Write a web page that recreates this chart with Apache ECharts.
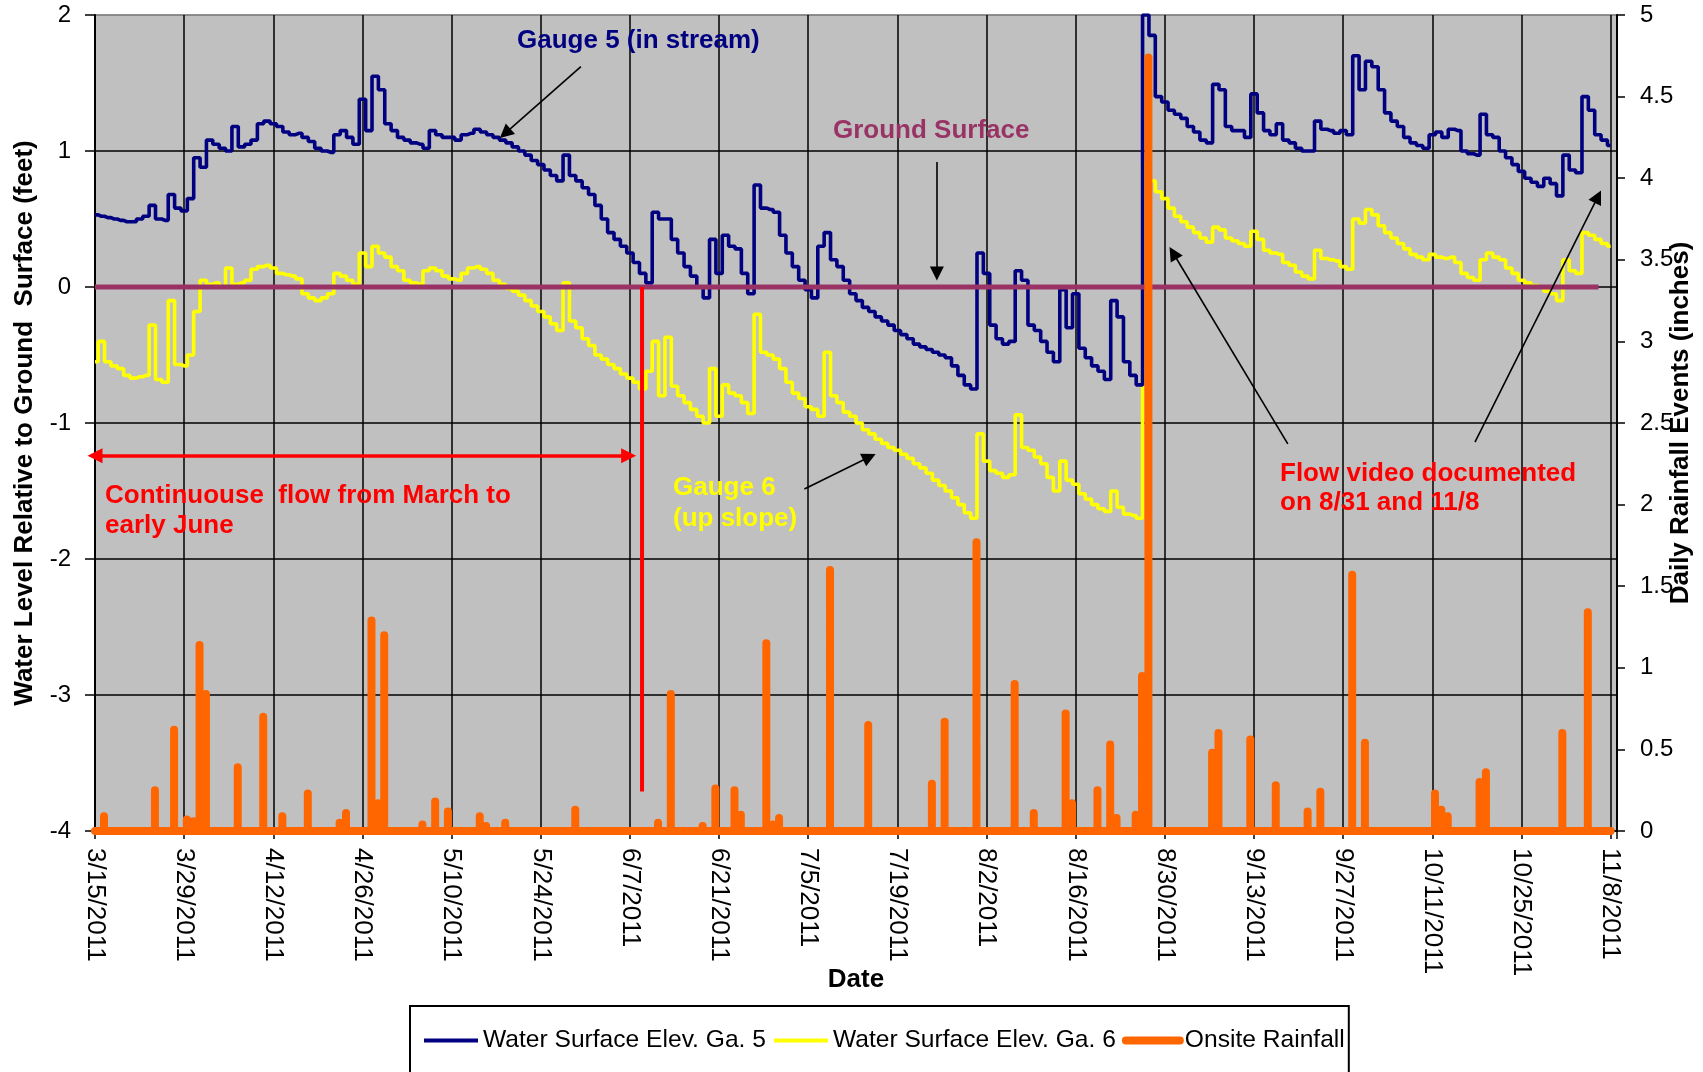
<!DOCTYPE html>
<html><head><meta charset="utf-8">
<script src="https://cdn.jsdelivr.net/npm/echarts@6/dist/echarts.min.js"></script>
<style>html,body{margin:0;padding:0;background:#fff}#c{width:1703px;height:1072px}</style>
</head><body><div id="c"></div>
<script>
// ---- DATA ----
const startDate = '2011-03-15';      // day 0 of the axis
const endDay = 238;                  // 11/8/2011
const xTickStepDays = 14;

// Daily water level relative to ground surface (feet), 3/15/2011 .. 11/8/2011
const gauge5 = [
 0.53,0.52,0.51,0.50,0.49,0.48,0.48,0.50,0.52,0.60,
 0.50,0.49,0.68,0.58,0.56,0.65,0.95,0.88,1.08,1.05,
 1.02,1.00,1.18,1.03,1.05,1.08,1.20,1.22,1.20,1.18,
 1.14,1.12,1.13,1.10,1.07,1.02,1.00,0.99,1.12,1.15,
 1.10,1.05,1.38,1.15,1.55,1.45,1.20,1.15,1.10,1.08,
 1.06,1.05,1.02,1.15,1.12,1.10,1.10,1.08,1.12,1.13,
 1.16,1.14,1.12,1.10,1.08,1.06,1.03,1.00,0.97,0.93,
 0.90,0.86,0.82,0.78,0.97,0.82,0.78,0.73,0.68,0.60,
 0.50,0.40,0.35,0.30,0.25,0.18,0.10,0.03,0.55,0.50,
 0.50,0.35,0.25,0.15,0.08,0.00,-0.08,0.35,0.10,0.38,
 0.30,0.28,0.10,-0.05,0.75,0.58,0.57,0.55,0.38,0.25,
 0.15,0.05,-0.02,-0.08,0.30,0.40,0.20,0.15,0.05,-0.05,
 -0.10,-0.15,-0.18,-0.22,-0.25,-0.28,-0.32,-0.35,-0.38,-0.42,
 -0.44,-0.46,-0.48,-0.50,-0.52,-0.58,-0.65,-0.72,-0.75,0.25,
 0.10,-0.28,-0.38,-0.42,-0.40,0.12,0.05,-0.28,-0.32,-0.40,
 -0.48,-0.55,-0.02,-0.30,-0.05,-0.45,-0.52,-0.58,-0.62,-0.68,
 -0.10,-0.22,-0.55,-0.65,-0.72,2.00,1.85,1.40,1.36,1.30,
 1.27,1.24,1.18,1.14,1.08,1.06,1.49,1.45,1.18,1.15,
 1.15,1.10,1.42,1.28,1.15,1.12,1.20,1.08,1.06,1.02,
 1.00,1.00,1.22,1.16,1.15,1.13,1.15,1.12,1.70,1.45,
 1.66,1.62,1.45,1.28,1.22,1.18,1.10,1.06,1.04,1.02,
 1.12,1.14,1.10,1.16,1.15,1.00,0.98,0.97,1.27,1.12,
 1.10,1.00,0.95,0.90,0.85,0.80,0.77,0.74,0.80,0.76,
 0.67,0.97,0.86,0.84,1.40,1.30,1.12,1.08,1.04
];
const gauge6 = [
 -0.55,-0.40,-0.55,-0.58,-0.60,-0.65,-0.67,-0.66,-0.65,-0.28,
 -0.68,-0.70,-0.10,-0.57,-0.58,-0.50,-0.18,0.05,0.02,0.03,
 0.00,0.14,0.02,0.03,0.05,0.13,0.15,0.16,0.14,0.10,
 0.09,0.08,0.06,-0.05,-0.08,-0.10,-0.08,-0.05,0.10,0.08,
 0.05,0.02,0.25,0.15,0.30,0.25,0.22,0.15,0.12,0.05,
 0.03,0.02,0.12,0.14,0.12,0.08,0.06,0.05,0.10,0.14,
 0.15,0.13,0.10,0.05,0.02,-0.01,-0.03,-0.06,-0.10,-0.14,
 -0.18,-0.22,-0.27,-0.32,0.03,-0.25,-0.30,-0.38,-0.43,-0.50,
 -0.53,-0.57,-0.60,-0.64,-0.67,-0.70,-0.75,-0.62,-0.40,-0.80,
 -0.37,-0.73,-0.80,-0.85,-0.90,-0.95,-1.00,-0.60,-0.95,-0.72,
 -0.78,-0.80,-0.85,-0.93,-0.20,-0.48,-0.50,-0.53,-0.60,-0.70,
 -0.78,-0.82,-0.88,-0.90,-0.95,-0.48,-0.80,-0.85,-0.92,-0.95,
 -1.00,-1.05,-1.08,-1.12,-1.15,-1.18,-1.20,-1.23,-1.26,-1.30,
 -1.33,-1.37,-1.42,-1.46,-1.50,-1.55,-1.60,-1.66,-1.70,-1.08,
 -1.28,-1.35,-1.37,-1.40,-1.38,-0.94,-1.18,-1.20,-1.25,-1.30,
 -1.40,-1.50,-1.28,-1.42,-1.45,-1.52,-1.56,-1.60,-1.63,-1.65,
 -1.50,-1.62,-1.67,-1.68,-1.70,0.91,0.78,0.70,0.65,0.58,
 0.52,0.48,0.44,0.40,0.36,0.33,0.44,0.42,0.36,0.34,
 0.32,0.30,0.41,0.35,0.27,0.25,0.24,0.18,0.16,0.11,
 0.08,0.06,0.27,0.21,0.20,0.19,0.15,0.13,0.50,0.47,
 0.57,0.53,0.45,0.40,0.36,0.32,0.28,0.24,0.22,0.20,
 0.24,0.22,0.21,0.22,0.18,0.10,0.07,0.05,0.20,0.25,
 0.22,0.20,0.14,0.10,0.05,0.03,0.01,0.00,-0.03,-0.05,
 -0.10,0.20,0.12,0.10,0.40,0.38,0.35,0.32,0.30
];

// Onsite rainfall events (inches)
const rainDates = [
 '2011-03-16','2011-03-24','2011-03-27','2011-03-29','2011-03-30','2011-03-31','2011-04-01',
 '2011-04-06','2011-04-10','2011-04-13','2011-04-17','2011-04-22','2011-04-23','2011-04-27',
 '2011-04-28','2011-04-29','2011-05-05','2011-05-07','2011-05-09','2011-05-14','2011-05-15',
 '2011-05-18','2011-05-29','2011-06-11','2011-06-13','2011-06-18','2011-06-20','2011-06-23',
 '2011-06-24','2011-06-28','2011-06-29','2011-06-30','2011-07-08','2011-07-14','2011-07-24',
 '2011-07-26','2011-07-31','2011-08-06','2011-08-09','2011-08-14','2011-08-15','2011-08-19',
 '2011-08-21','2011-08-22','2011-08-25','2011-08-26','2011-08-27','2011-09-06','2011-09-07',
 '2011-09-12','2011-09-16','2011-09-21','2011-09-23','2011-09-28','2011-09-30','2011-10-11',
 '2011-10-12','2011-10-13','2011-10-18','2011-10-19','2011-10-31','2011-11-04'
];
const rainInches = [
 0.09,0.25,0.62,0.07,0.06,1.14,0.84,
 0.39,0.70,0.09,0.23,0.05,0.11,1.29,
 0.17,1.20,0.04,0.18,0.12,0.09,0.03,
 0.05,0.13,0.05,0.84,0.03,0.26,0.25,
 0.10,1.15,0.04,0.08,1.60,0.65,0.29,
 0.67,1.77,0.90,0.11,0.72,0.17,0.25,
 0.53,0.08,0.10,0.95,4.74,0.48,0.60,
 0.56,0.28,0.12,0.24,1.57,0.54,0.23,
 0.13,0.09,0.30,0.36,0.60,1.34
];
const rainHourOfDay = 10;

const leftTicks = {min:-4, max:2, step:1};
const rightTicks = {min:0, max:5, step:0.5};

// Annotation geometry in data units [day, feet]
const groundSurface = [[0,0],[236.1,0]];
const flowEndLine = [[85.9,0],[85.9,-3.71]];
const flowSpan = [[0,-1.24],[83.8,-1.24]];
const blackArrows = [
 [[76.3,1.62],[64.4,1.13]],
 [[132.2,0.92],[132.2,0.10]],
 [[111.4,-1.485],[121.6,-1.25]],
 [[187.3,-1.154],[169.3,0.25]],
 [[216.7,-1.14],[236.0,0.664]]
];

// ---- BUILD ----
const t0 = Date.UTC(2011,2,15);
function dayIndex(s){const p=s.split('-').map(Number);return (Date.UTC(p[0],p[1]-1,p[2])-t0)/864e5;}
function fmtDay(v){const d=new Date(t0+v*864e5);return (d.getUTCMonth()+1)+'/'+d.getUTCDate()+'/'+d.getUTCFullYear();}

const g5 = gauge5.map((v,i)=>[i,v]);
const g6 = gauge6.map((v,i)=>[i,v]);
const rain = [[0,0]];
rainDates.forEach((s,i)=>{const t=dayIndex(s)+rainHourOfDay/24;rain.push([t,0],[t,rainInches[i]],[t,0]);});
rain.push([endDay,0]);

const FONT='"Liberation Sans", Arial, sans-serif';
const chart = echarts.init(document.getElementById('c'));
chart.setOption({
  animation:false,
  backgroundColor:'#fff',
  textStyle:{fontFamily:FONT},
  grid:{left:95,right:86,top:15,bottom:241,show:true,backgroundColor:'#C0C0C0',borderColor:'#808080',borderWidth:1,containLabel:false,outerBoundsMode:'none'},
  legend:{
    data:[
      {name:'Water Surface Elev. Ga. 5',lineStyle:{width:4}},
      {name:'Water Surface Elev. Ga. 6',lineStyle:{width:4}},
      {name:'Onsite Rainfall',lineStyle:{width:8,cap:'round'}}
    ],
    left:410, top:1006, orient:'horizontal',
    itemWidth:54, itemHeight:14, itemGap:6,
    padding:[22,4,30,12], borderColor:'#000', borderWidth:2, backgroundColor:'#fff',
    itemStyle:{color:'rgba(0,0,0,0)',opacity:0,borderWidth:0},
    textStyle:{fontSize:24.6,color:'#000',fontFamily:FONT}
  },
  xAxis:{
    type:'value', min:0, max:endDay+1, interval:xTickStepDays,
    name:'Date', nameLocation:'middle', nameGap:136, nameMoveOverlap:false,
    nameTextStyle:{fontSize:26,fontWeight:'bold',color:'#000',fontFamily:FONT},
    axisLine:{show:true,onZero:false,lineStyle:{color:'#000',width:1.5}},
    axisTick:{show:true,length:8,lineStyle:{color:'#000',width:1.5}},
    axisLabel:{rotate:-90,fontSize:26,color:'#000',margin:17,fontFamily:FONT,
      formatter:v=> (v % xTickStepDays===0 ? fmtDay(v) : '')},
    splitLine:{show:true,lineStyle:{color:'#000',width:1.5}}
  },
  yAxis:[{
    type:'value', min:leftTicks.min, max:leftTicks.max, interval:leftTicks.step, position:'left',
    name:'Water Level Relative to Ground  Surface (feet)', nameLocation:'middle', nameGap:57, nameRotate:90, nameMoveOverlap:false,
    nameTextStyle:{fontSize:26,fontWeight:'bold',color:'#000',fontFamily:FONT},
    axisLine:{show:true,onZero:false,lineStyle:{color:'#000',width:2}},
    axisTick:{show:true,length:10,lineStyle:{color:'#000',width:1.5}},
    axisLabel:{fontSize:24,color:'#000',margin:24,fontFamily:FONT},
    splitLine:{show:true,lineStyle:{color:['#000','#000','#000','#000','#000','#000','#808080'],width:1.5}}
  },{
    type:'value', min:rightTicks.min, max:rightTicks.max, interval:rightTicks.step, position:'right',
    name:'Daily Rainfall Events (inches)', nameLocation:'middle', nameGap:51, nameRotate:90, nameMoveOverlap:false,
    nameTextStyle:{fontSize:26,fontWeight:'bold',color:'#000',fontFamily:FONT},
    axisLine:{show:true,onZero:false,lineStyle:{color:'#000',width:2}},
    axisTick:{show:true,length:8,lineStyle:{color:'#000',width:1.5}},
    axisLabel:{fontSize:24,color:'#000',margin:23,fontFamily:FONT},
    splitLine:{show:false}
  }],
  series:[
    {name:'Water Surface Elev. Ga. 6',type:'line',data:g6,step:'middle',showSymbol:false,symbol:'none',
     lineStyle:{color:'#FFFF00',width:3.6},itemStyle:{color:'#FFFF00'},z:2,silent:true},
    {name:'Water Surface Elev. Ga. 5',type:'line',data:g5,step:'middle',showSymbol:false,symbol:'none',
     lineStyle:{color:'#000080',width:3.6},itemStyle:{color:'#000080'},z:3,silent:true},
    {name:'ground',type:'line',data:groundSurface,symbol:'none',lineStyle:{color:'#993366',width:5},z:4,silent:true},
    {name:'flowEnd',type:'line',data:flowEndLine,symbol:'none',lineStyle:{color:'#FF0000',width:4},z:4,silent:true},
    {name:'Onsite Rainfall',type:'line',yAxisIndex:1,data:rain,symbol:'none',showSymbol:false,clip:false,
     lineStyle:{color:'#FF6600',width:8,cap:'round',join:'round'},itemStyle:{color:'#FF6600'},z:5,silent:true},
    {name:'redArrow',type:'line',data:[],z:6,silent:true,
     markLine:{silent:true,animation:false,symbol:['triangle','triangle'],symbolSize:15,label:{show:false},
       lineStyle:{color:'#FF0000',width:3.5,type:'solid'},emphasis:{disabled:true},
       data:[[{coord:flowSpan[0]},{coord:flowSpan[1]}]]}},
    {name:'arrows',type:'line',data:[],z:7,silent:true,
     markLine:{silent:true,animation:false,symbol:['none','triangle'],symbolSize:14,label:{show:false},
       lineStyle:{color:'#000',width:1.6,type:'solid'},emphasis:{disabled:true},
       data:blackArrows.map(a=>[{coord:a[0]},{coord:a[1]}])}}
  ],
  graphic:[
    {type:'text',left:517,top:26,z:100,style:{text:'Gauge 5 (in stream)',font:'bold 26px '+FONT,fill:'#000080',lineHeight:30}},
    {type:'text',left:833,top:116,z:100,style:{text:'Ground Surface',font:'bold 26px '+FONT,fill:'#993366',lineHeight:30}},
    {type:'text',left:105,top:481,z:100,style:{text:'Continuouse  flow from March to\nearly June',font:'bold 26px '+FONT,fill:'#FF0000',lineHeight:30}},
    {type:'text',left:673,top:472,z:100,style:{text:'Gauge 6\n(up slope)',font:'bold 26px '+FONT,fill:'#FFFF00',lineHeight:31}},
    {type:'text',left:1280,top:459,z:100,style:{text:'Flow video documented\non 8/31 and 11/8',font:'bold 26px '+FONT,fill:'#FF0000',lineHeight:29}}
  ]
});
</script></body></html>
